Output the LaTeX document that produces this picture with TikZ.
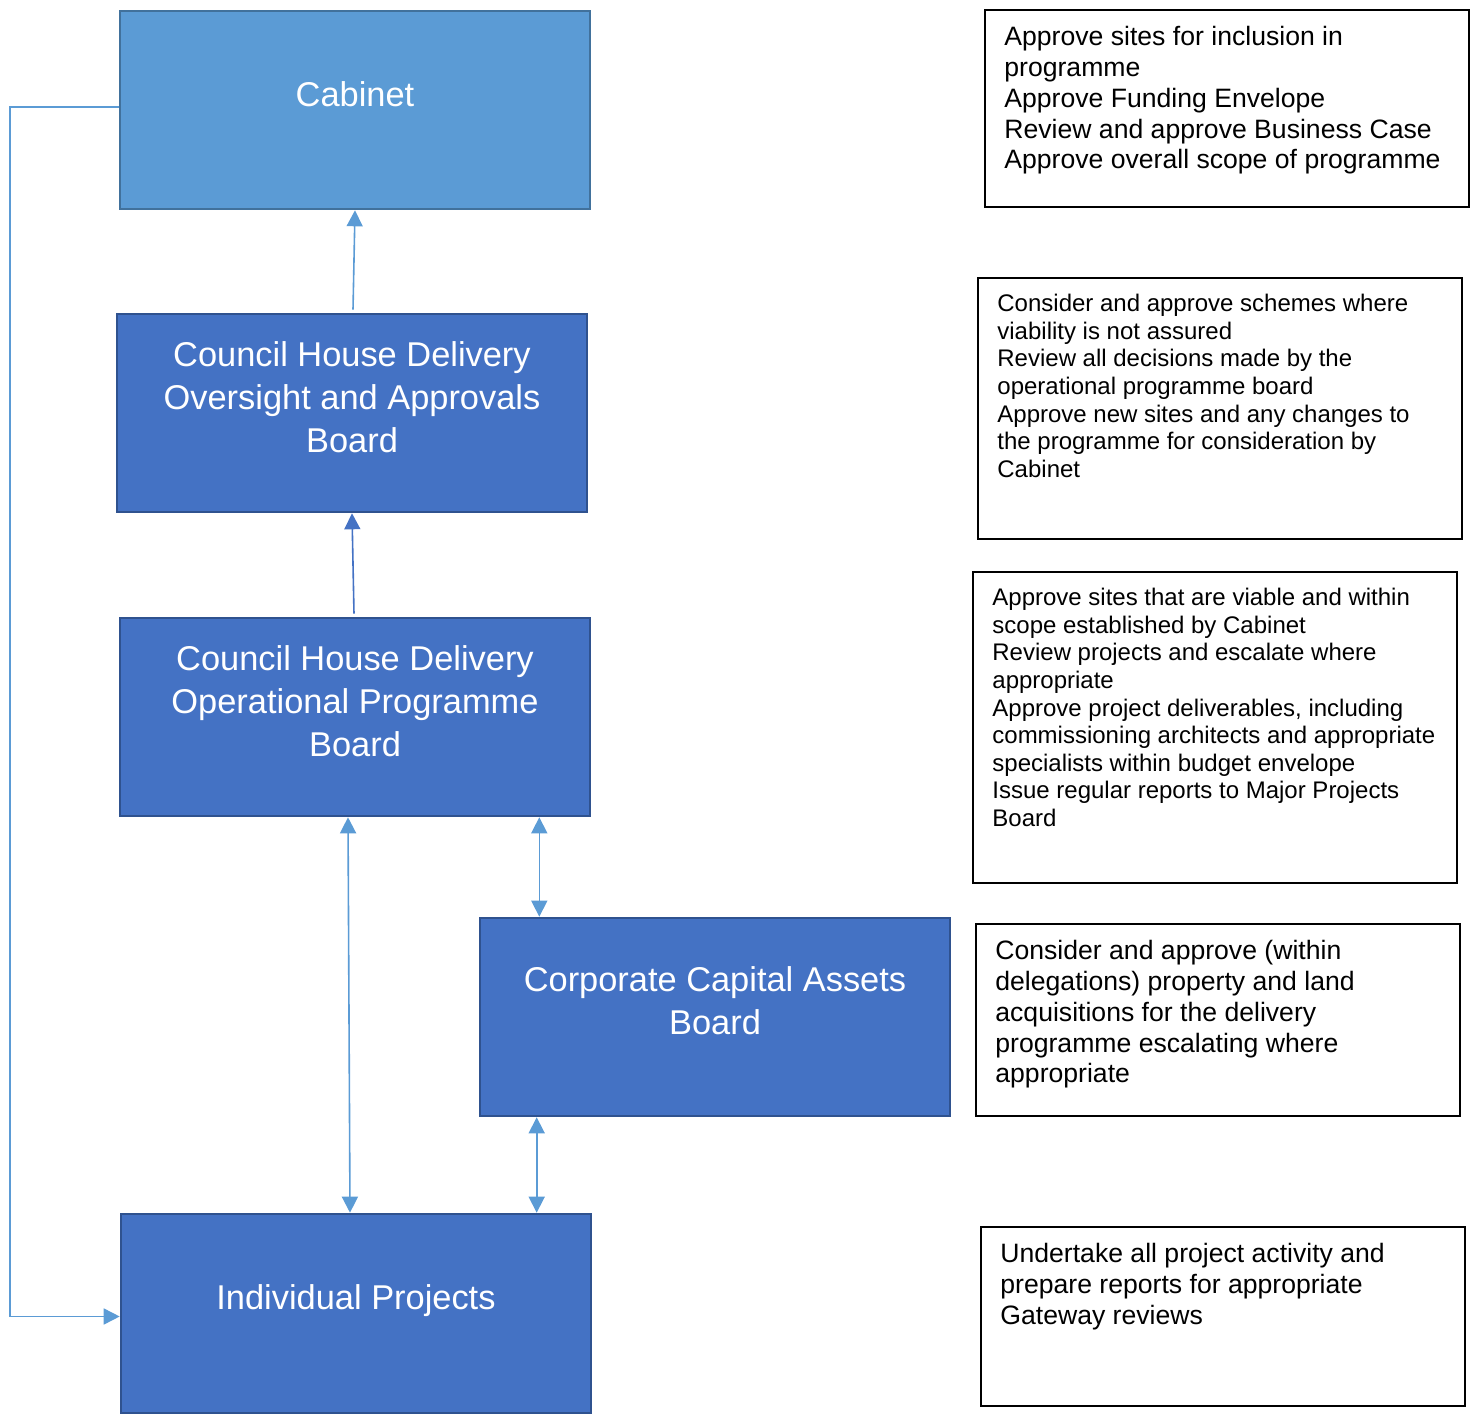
\documentclass[tikz,border=0pt]{standalone}
\usepackage{fontspec}
\setmainfont{Liberation Sans}
\usepackage{tikz}
\usetikzlibrary{arrows.meta,positioning}

\definecolor{lightblue}{HTML}{5B9BD5}
\definecolor{lightedge}{HTML}{41719C}
\definecolor{boardblue}{HTML}{4472C4}
\definecolor{boardedge}{HTML}{2F528F}

\begin{document}
\begin{tikzpicture}[
        x=0.5pt, y=-0.5pt,
        >={Triangle[width=8pt,length=8pt]},
        board/.style={draw=boardedge, line width=1.3pt, fill=boardblue, minimum width=235pt, minimum height=99pt, inner sep=0pt},
        boardtitle/.style={text=white, align=center, yshift=8pt, font=\fontsize{17.2pt}{21.5pt}\selectfont},
        note/.style={draw=black, line width=1pt, minimum width=242pt, inner sep=0pt},
        notetext/.style={anchor=north west, xshift=10pt, yshift=-8.5pt, align=left, inner sep=0pt},
        link/.style={draw=lightblue, line width=0.8pt}
    ]

    \useasboundingbox (0,0) rectangle (1479,1416);

    % Boards
    \node[board, fill=lightblue, draw=lightedge, label={[boardtitle]center:Cabinet}] (cabinet) at (355,110) {};
    \node[board, label={[boardtitle]center:Council House Delivery\\Oversight and Approvals\\Board}] (oversight) at (352,413) {};
    \node[board, label={[boardtitle]center:Council House Delivery\\Operational Programme\\Board}] (operational) at (355,717) {};
    \node[board, label={[boardtitle]center:Corporate Capital Assets\\Board}] (assets) at (715,1017) {};
    \node[board, minimum height=99.5pt, label={[boardtitle, yshift=-1.5pt]center:Individual Projects}] (projects) at (356,1313.5) {};

    % Notes
    \node[note, minimum height=98.5pt, label={[notetext, font=\fontsize{13.3pt}{15.4pt}\selectfont]north west:{Approve sites for inclusion in\\programme\\Approve Funding Envelope\\Review and approve Business Case\\Approve overall scope of programme}}] (cabinetroles) at (1227,108.5) {};
    \node[note, minimum height=130.5pt, label={[notetext, font=\fontsize{12pt}{13.8pt}\selectfont]north west:{Consider and approve schemes where\\viability is not assured\\Review all decisions made by the\\operational programme board\\Approve new sites and any changes to\\the programme for consideration by\\Cabinet}}] (oversightroles) at (1220,408.5) {};
    \node[note, minimum height=155.5pt, label={[notetext, font=\fontsize{12pt}{13.8pt}\selectfont]north west:{Approve sites that are viable and within\\scope established by Cabinet\\Review projects and escalate where\\appropriate\\Approve project deliverables, including\\commissioning architects and appropriate\\specialists within budget envelope\\Issue regular reports to Major Projects\\Board}}] (operationalroles) at (1215,727.5) {};
    \node[note, minimum height=96pt, label={[notetext, font=\fontsize{13.3pt}{15.4pt}\selectfont]north west:{Consider and approve (within\\delegations) property and land\\acquisitions for the delivery\\programme escalating where\\appropriate}}] (assetsroles) at (1218,1020) {};
    \node[note, minimum height=89.5pt, label={[notetext, font=\fontsize{13.3pt}{15.4pt}\selectfont]north west:{Undertake all project activity and\\prepare reports for appropriate\\Gateway reviews}}] (projectsroles) at (1223,1316.5) {};

    % Edges
    \draw[link, ->] ([xshift=0.5pt, yshift=1.5pt]oversight.north) -- (cabinet.south);
    \draw[link, draw=boardblue, ->] ([xshift=-0.5pt, yshift=1.5pt]operational.north) -- (oversight.south);
    \draw[link, <->] ([xshift=-3.5pt]operational.south) -- ([xshift=-3pt]projects.north);
    \draw[link, <->] ([xshift=-26pt]operational.south east) -- ([xshift=-26pt]operational.south east |- assets.north);
    \draw[link, <->] ([xshift=29pt]assets.south west) -- ([xshift=29pt]assets.south west |- projects.north);
    \coordinate (rail) at (10,107);
    \draw[link, ->] (cabinet.west |- rail) -- (rail) |- ([yshift=-1.5pt]projects.west);

\end{tikzpicture}
\end{document}
